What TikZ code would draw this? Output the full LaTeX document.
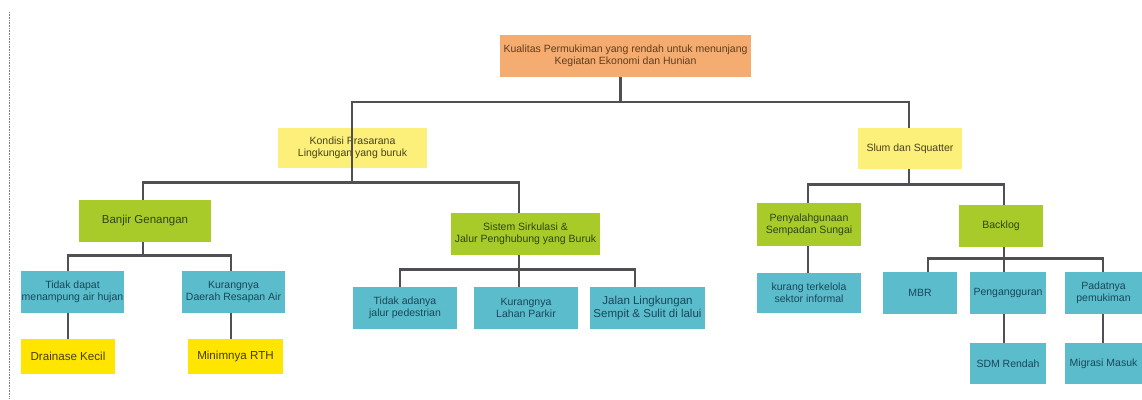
\documentclass[tikz,border=0pt]{standalone}
\usepackage{fontspec}
\setmainfont{Liberation Sans}
\begin{document}
\begin{tikzpicture}[x=1pt,y=-1pt,
  box/.style={inner sep=0pt, align=center, font=\fontsize{10.5}{12}\selectfont},
  orangebox/.style={box, fill={rgb,255:red,245;green,172;blue,112}, text={rgb,255:red,95;green,62;blue,30}},
  paleyellow/.style={box, fill={rgb,255:red,253;green,240;blue,122}, text={rgb,255:red,70;green,66;blue,30}},
  greenbox/.style={box, fill={rgb,255:red,168;green,203;blue,42}, text={rgb,255:red,45;green,70;blue,20}},
  cyanbox/.style={box, fill={rgb,255:red,91;green,189;blue,203}, text={rgb,255:red,25;green,70;blue,90}},
  brightyellow/.style={box, fill={rgb,255:red,255;green,229;blue,0}, text={rgb,255:red,70;green,60;blue,10}, font=\fontsize{11.6}{13}\selectfont},
  conn/.style={draw={rgb,255:red,80;green,80;blue,84}, line width=2.8pt, line join=miter}
]
\useasboundingbox (0,0) rectangle (1142,399);
\draw[gray, densely dotted, line width=0.6pt] (9.5,12) -- (9.5,399);

% nodes
\node[orangebox, minimum width=251, minimum height=42] (root) at (625.5,56) {Kualitas Permukiman yang rendah untuk menunjang\\Kegiatan Ekonomi dan Hunian};
\node[paleyellow, minimum width=149, minimum height=40] (kond) at (352.5,148) {Kondisi Prasarana\\Lingkungan yang buruk};
\node[paleyellow, minimum width=104, minimum height=41] (slum) at (910,148.5) {Slum dan Squatter};

\node[greenbox, minimum width=132, minimum height=42, font=\fontsize{11.5}{13}\selectfont] (banjir) at (145,221) {Banjir Genangan};
\node[greenbox, minimum width=149, minimum height=42] (sistem) at (525.5,234) {Sistem Sirkulasi \&\\Jalur Penghubung yang Buruk};
\node[greenbox, minimum width=104, minimum height=43] (penyal) at (809,224.5) {Penyalahgunaan\\Sempadan Sungai};
\node[greenbox, minimum width=84, minimum height=42] (backlog) at (1001,226) {Backlog};

\node[cyanbox, minimum width=103, minimum height=42] (tidakdapat) at (72.5,292) {Tidak dapat\\menampung air hujan};
\node[cyanbox, minimum width=103, minimum height=42] (kurangdaerah) at (233.5,292) {Kurangnya\\Daerah Resapan Air};
\node[brightyellow, minimum width=94, minimum height=35] (drainase) at (68,356.5) {Drainase Kecil};
\node[brightyellow, minimum width=95, minimum height=35] (minim) at (235.5,356.5) {Minimnya RTH};

\node[cyanbox, minimum width=104, minimum height=42] (tidakadanya) at (405,308) {Tidak adanya\\jalur pedestrian};
\node[cyanbox, minimum width=104, minimum height=42] (kuranglahan) at (526,308) {Kurangnya\\Lahan Parkir};
\node[cyanbox, minimum width=115, minimum height=42, font=\fontsize{11.5}{12.5}\selectfont] (jalan) at (647.5,308) {Jalan Lingkungan\\Sempit \& Sulit di lalui};

\node[cyanbox, minimum width=104, minimum height=40] (kurangkelola) at (809,293) {kurang terkelola\\sektor informal};
\node[cyanbox, minimum width=74, minimum height=42] (mbr) at (920,293) {MBR};
\node[cyanbox, minimum width=76, minimum height=42] (peng) at (1008,293) {Pengangguran};
\node[cyanbox, minimum width=77, minimum height=42] (padat) at (1103.5,293) {Padatnya\\pemukiman};
\node[cyanbox, minimum width=76, minimum height=41] (sdm) at (1008,363.5) {SDM Rendah};
\node[cyanbox, minimum width=77, minimum height=41] (migrasi) at (1103.5,363.5) {Migrasi Masuk};

% connectors
\draw[conn] ([xshift=-4.8pt]root.south) -- ++(0,24.7) -| ([xshift=-0.5pt]kond.north);
\draw[conn] ([xshift=-4.8pt]root.south) -- ++(0,24.7) -| ([xshift=-1pt]slum.north);

\draw[conn] ([xshift=-0.5pt]kond.north) -- ++(0,55) -| ([xshift=-2pt]banjir.north);
\draw[conn] ([xshift=-0.5pt]kond.north) -- ++(0,55) -| ([xshift=-6.5pt]sistem.north);

\draw[conn] ([xshift=-1pt]slum.south) -- ++(0,15) -| ([xshift=-1pt]penyal.north);
\draw[conn] ([xshift=-1pt]slum.south) -- ++(0,15) -| ([xshift=3pt]backlog.north);

\draw[conn] ([xshift=-2pt]banjir.south) -- ++(0,13) -| ([xshift=-4.5pt]tidakdapat.north);
\draw[conn] ([xshift=-2pt]banjir.south) -- ++(0,13) -| ([xshift=-2.5pt]kurangdaerah.north);
\draw[conn] ([xshift=-4.5pt]tidakdapat.south) -- (drainase.north);
\draw[conn] ([xshift=-2.5pt]kurangdaerah.south) -- ([xshift=-4.5pt]minim.north);

\draw[conn] ([xshift=-6.5pt]sistem.south) -- ++(0,14) -| ([xshift=-5pt]tidakadanya.north);
\draw[conn] ([xshift=-6.5pt]sistem.south) -- ++(0,14) -| ([xshift=-7pt]kuranglahan.north);
\draw[conn] ([xshift=-6.5pt]sistem.south) -- ++(0,14) -| ([xshift=-12.5pt]jalan.north);

\draw[conn] ([xshift=-1pt]penyal.south) -- ([xshift=-1pt]kurangkelola.north);

\draw[conn] ([xshift=3pt]backlog.south) -- ++(0,11) -| ([xshift=8pt]mbr.north);
\draw[conn] ([xshift=3pt]backlog.south) -- ++(0,11) -| ([xshift=-4pt]peng.north);
\draw[conn] ([xshift=3pt]backlog.south) -- ++(0,11) -| ([xshift=-0.5pt]padat.north);
\draw[conn] ([xshift=-4pt]peng.south) -- ([xshift=-4pt]sdm.north);
\draw[conn] ([xshift=-0.5pt]padat.south) -- ([xshift=-0.5pt]migrasi.north);
\end{tikzpicture}
\end{document}
